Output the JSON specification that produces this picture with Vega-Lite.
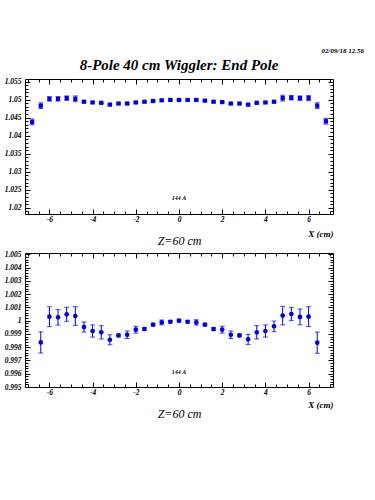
{
  "$schema": "https://vega.github.io/schema/vega-lite/v6.json",
  "background": "white",
  "padding": {"left": 3, "top": 47, "right": 5, "bottom": 5},
  "title": {"text": "02/09/18  12.56", "anchor": "end", "font": "Liberation Serif", "fontSize": 7, "fontStyle": "italic", "fontWeight": "bold", "color": "black", "offset": 3, "dx": 30},
  "config": {
    "view": {"stroke": "black", "strokeWidth": 1},
    "axis": {"grid": false, "domain": false, "tickColor": "black", "labelColor": "black", "labelFont": "Liberation Serif", "labelFontStyle": "italic", "labelFontWeight": "bold", "labelFontSize": 7.5, "titleColor": "black", "titleFont": "Liberation Serif", "titleFontStyle": "italic", "titleFontWeight": "normal"}
  },
  "datasets": {
    "top": [
      {"x": -6.8, "b": 1.0438, "lo": 1.0430, "hi": 1.0446},
      {"x": -6.4, "b": 1.0483, "lo": 1.0475, "hi": 1.0491},
      {"x": -6.0, "b": 1.0502, "lo": 1.0496, "hi": 1.0508},
      {"x": -5.6, "b": 1.0502, "lo": 1.0496, "hi": 1.0508},
      {"x": -5.2, "b": 1.0504, "lo": 1.0498, "hi": 1.0510},
      {"x": -4.8, "b": 1.0502, "lo": 1.0494, "hi": 1.0510},
      {"x": -4.4, "b": 1.0494, "lo": 1.0492, "hi": 1.0496},
      {"x": -4.0, "b": 1.0492, "lo": 1.0490, "hi": 1.0494},
      {"x": -3.6, "b": 1.0491, "lo": 1.0489, "hi": 1.0493},
      {"x": -3.2, "b": 1.0486, "lo": 1.0484, "hi": 1.0488},
      {"x": -2.8, "b": 1.0489, "lo": 1.0487, "hi": 1.0491},
      {"x": -2.4, "b": 1.0489, "lo": 1.0487, "hi": 1.0491},
      {"x": -2.0, "b": 1.0492, "lo": 1.0490, "hi": 1.0494},
      {"x": -1.6, "b": 1.0494, "lo": 1.0492, "hi": 1.0496},
      {"x": -1.2, "b": 1.0496, "lo": 1.0494, "hi": 1.0498},
      {"x": -0.8, "b": 1.0498, "lo": 1.0496, "hi": 1.0500},
      {"x": -0.4, "b": 1.0499, "lo": 1.0497, "hi": 1.0501},
      {"x": 0.0, "b": 1.0499, "lo": 1.0497, "hi": 1.0501},
      {"x": 0.4, "b": 1.0499, "lo": 1.0497, "hi": 1.0501},
      {"x": 0.8, "b": 1.0499, "lo": 1.0497, "hi": 1.0501},
      {"x": 1.2, "b": 1.0497, "lo": 1.0495, "hi": 1.0499},
      {"x": 1.6, "b": 1.0494, "lo": 1.0492, "hi": 1.0496},
      {"x": 2.0, "b": 1.0493, "lo": 1.0491, "hi": 1.0495},
      {"x": 2.4, "b": 1.0489, "lo": 1.0487, "hi": 1.0491},
      {"x": 2.8, "b": 1.0489, "lo": 1.0487, "hi": 1.0491},
      {"x": 3.2, "b": 1.0486, "lo": 1.0484, "hi": 1.0488},
      {"x": 3.6, "b": 1.0491, "lo": 1.0489, "hi": 1.0493},
      {"x": 4.0, "b": 1.0492, "lo": 1.0490, "hi": 1.0494},
      {"x": 4.4, "b": 1.0494, "lo": 1.0492, "hi": 1.0496},
      {"x": 4.8, "b": 1.0504, "lo": 1.0496, "hi": 1.0512},
      {"x": 5.2, "b": 1.0505, "lo": 1.0499, "hi": 1.0511},
      {"x": 5.6, "b": 1.0504, "lo": 1.0498, "hi": 1.0510},
      {"x": 6.0, "b": 1.0504, "lo": 1.0497, "hi": 1.0511},
      {"x": 6.4, "b": 1.0483, "lo": 1.0475, "hi": 1.0491},
      {"x": 6.8, "b": 1.0440, "lo": 1.0432, "hi": 1.0448}
    ],
    "bottom": [
      {"x": -6.4, "b": 0.99836, "lo": 0.99756, "hi": 0.99916},
      {"x": -6.0, "b": 1.00030, "lo": 0.99955, "hi": 1.00105},
      {"x": -5.6, "b": 1.00025, "lo": 0.99967, "hi": 1.00083},
      {"x": -5.2, "b": 1.00048, "lo": 0.99995, "hi": 1.00101},
      {"x": -4.8, "b": 1.00035, "lo": 0.99965, "hi": 1.00105},
      {"x": -4.4, "b": 0.99952, "lo": 0.99914, "hi": 0.99990},
      {"x": -4.0, "b": 0.99922, "lo": 0.99876, "hi": 0.99968},
      {"x": -3.6, "b": 0.99912, "lo": 0.99862, "hi": 0.99962},
      {"x": -3.2, "b": 0.99856, "lo": 0.99818, "hi": 0.99894},
      {"x": -2.8, "b": 0.99889, "lo": 0.99879, "hi": 0.99899},
      {"x": -2.4, "b": 0.99894, "lo": 0.99866, "hi": 0.99922},
      {"x": -2.0, "b": 0.99932, "lo": 0.99906, "hi": 0.99958},
      {"x": -1.6, "b": 0.99937, "lo": 0.99925, "hi": 0.99949},
      {"x": -1.2, "b": 0.99970, "lo": 0.99960, "hi": 0.99980},
      {"x": -0.8, "b": 0.99987, "lo": 0.99969, "hi": 1.00005},
      {"x": -0.4, "b": 0.99992, "lo": 0.99982, "hi": 1.00002},
      {"x": 0.0, "b": 1.00000, "lo": 0.99990, "hi": 1.00010},
      {"x": 0.4, "b": 0.99992, "lo": 0.99982, "hi": 1.00002},
      {"x": 0.8, "b": 0.99987, "lo": 0.99967, "hi": 1.00007},
      {"x": 1.2, "b": 0.99970, "lo": 0.99960, "hi": 0.99980},
      {"x": 1.6, "b": 0.99937, "lo": 0.99925, "hi": 0.99949},
      {"x": 2.0, "b": 0.99932, "lo": 0.99906, "hi": 0.99958},
      {"x": 2.4, "b": 0.99894, "lo": 0.99866, "hi": 0.99922},
      {"x": 2.8, "b": 0.99889, "lo": 0.99879, "hi": 0.99899},
      {"x": 3.2, "b": 0.99859, "lo": 0.99821, "hi": 0.99897},
      {"x": 3.6, "b": 0.99912, "lo": 0.99862, "hi": 0.99962},
      {"x": 4.0, "b": 0.99922, "lo": 0.99876, "hi": 0.99968},
      {"x": 4.4, "b": 0.99957, "lo": 0.99917, "hi": 0.99997},
      {"x": 4.8, "b": 1.00038, "lo": 0.99968, "hi": 1.00108},
      {"x": 5.2, "b": 1.00050, "lo": 1.00000, "hi": 1.00100},
      {"x": 5.6, "b": 1.00028, "lo": 0.99968, "hi": 1.00088},
      {"x": 6.0, "b": 1.00030, "lo": 0.99955, "hi": 1.00105},
      {"x": 6.4, "b": 0.99834, "lo": 0.99754, "hi": 0.99914}
    ],
    "label": [{"x": 0, "yt": 1.0227, "yb": 0.99615, "t": "144 A"}]
  },
  "spacing": 2,
  "vconcat": [
    {
      "width": 308, "height": 135,
      "title": {"text": "8-Pole 40 cm Wiggler: End Pole", "font": "Liberation Serif", "fontSize": 15, "fontStyle": "italic", "fontWeight": "bold", "color": "black", "anchor": "middle", "offset": 5},
      "resolve": {"axis": {"x": "independent", "y": "independent"}},
      "layer": [
        {
          "data": {"name": "top"},
          "mark": {"type": "rule", "color": "#0000dd", "strokeWidth": 1},
          "encoding": {
            "x": {"field": "x", "type": "quantitative", "scale": {"domain": [-7.13, 7.13], "nice": false, "zero": false},
                  "axis": {"orient": "bottom", "values": [-6, -4, -2, 0, 2, 4, 6], "tickSize": -5, "labelPadding": 6, "labelExpr": "toString(datum.value)", "title": "Z=60 cm", "titleFontSize": 12, "titlePadding": 13}},
            "y": {"field": "lo", "type": "quantitative", "scale": {"domain": [1.0183, 1.0557], "nice": false, "zero": false},
                  "axis": {"orient": "left", "values": [1.02, 1.025, 1.03, 1.035, 1.04, 1.045, 1.05, 1.055], "tickSize": -5, "labelPadding": 9, "labelExpr": "toString(datum.value)", "title": null}},
            "y2": {"field": "hi"}
          }
        },
        {
          "data": {"name": "top"},
          "mark": {"type": "tick", "color": "#0000dd", "size": 5, "thickness": 1, "orient": "horizontal"},
          "encoding": {
            "x": {"field": "x", "type": "quantitative",
                  "axis": {"orient": "bottom", "values": [-7, -6.5, -5.5, -5, -4.5, -3.5, -3, -2.5, -1.5, -1, -0.5, 0.5, 1, 1.5, 2.5, 3, 3.5, 4.5, 5, 5.5, 6.5, 7], "tickSize": -3, "labels": false, "title": "X (cm)", "titleFontSize": 9, "titleFontWeight": "bold", "titleAnchor": "end", "titleAlign": "right", "titlePadding": 15}},
            "y": {"field": "lo", "type": "quantitative",
                  "axis": {"orient": "left", "values": [1.019, 1.021, 1.022, 1.023, 1.024, 1.026, 1.027, 1.028, 1.029, 1.031, 1.032, 1.033, 1.034, 1.036, 1.037, 1.038, 1.039, 1.041, 1.042, 1.043, 1.044, 1.046, 1.047, 1.048, 1.049, 1.051, 1.052, 1.053, 1.054], "tickSize": -3, "labels": false, "title": null}}
          }
        },
        {
          "data": {"name": "top"},
          "mark": {"type": "tick", "color": "#0000dd", "size": 5, "thickness": 1, "orient": "horizontal"},
          "encoding": {
            "x": {"field": "x", "type": "quantitative",
                  "axis": {"orient": "top", "values": [-6, -4, -2, 0, 2, 4, 6], "tickSize": -5, "labels": false, "title": null}},
            "y": {"field": "hi", "type": "quantitative",
                  "axis": {"orient": "right", "values": [1.02, 1.025, 1.03, 1.035, 1.04, 1.045, 1.05, 1.055], "tickSize": -5, "labels": false, "title": null}}
          }
        },
        {
          "data": {"name": "top"},
          "mark": {"type": "point", "shape": "square", "filled": true, "color": "#0000dd", "size": 18, "opacity": 1},
          "encoding": {
            "x": {"field": "x", "type": "quantitative",
                  "axis": {"orient": "top", "values": [-7, -6.5, -5.5, -5, -4.5, -3.5, -3, -2.5, -1.5, -1, -0.5, 0.5, 1, 1.5, 2.5, 3, 3.5, 4.5, 5, 5.5, 6.5, 7], "tickSize": -3, "labels": false, "title": null}},
            "y": {"field": "b", "type": "quantitative",
                  "axis": {"orient": "right", "values": [1.019, 1.021, 1.022, 1.023, 1.024, 1.026, 1.027, 1.028, 1.029, 1.031, 1.032, 1.033, 1.034, 1.036, 1.037, 1.038, 1.039, 1.041, 1.042, 1.043, 1.044, 1.046, 1.047, 1.048, 1.049, 1.051, 1.052, 1.053, 1.054], "tickSize": -3, "labels": false, "title": null}}
          }
        },
        {
          "data": {"name": "label"},
          "mark": {"type": "text", "font": "Liberation Serif", "fontStyle": "italic", "fontWeight": "bold", "fontSize": 6, "color": "black"},
          "encoding": {
            "x": {"field": "x", "type": "quantitative", "axis": null},
            "y": {"field": "yt", "type": "quantitative", "axis": null},
            "text": {"field": "t"}
          }
        }
      ]
    },
    {
      "width": 308, "height": 134,
      "resolve": {"axis": {"x": "independent", "y": "independent"}},
      "layer": [
        {
          "data": {"name": "bottom"},
          "mark": {"type": "rule", "color": "#0000dd", "strokeWidth": 1},
          "encoding": {
            "x": {"field": "x", "type": "quantitative", "scale": {"domain": [-7.13, 7.13], "nice": false, "zero": false},
                  "axis": {"orient": "bottom", "values": [-6, -4, -2, 0, 2, 4, 6], "tickSize": -5, "labelPadding": 6, "labelExpr": "toString(datum.value)", "title": "Z=60 cm", "titleFontSize": 12, "titlePadding": 13}},
            "y": {"field": "lo", "type": "quantitative", "scale": {"domain": [0.995, 1.0051], "nice": false, "zero": false},
                  "axis": {"orient": "left", "values": [0.995, 0.996, 0.997, 0.998, 0.999, 1, 1.001, 1.002, 1.003, 1.004, 1.005], "tickSize": -5, "labelPadding": 9, "labelExpr": "toString(datum.value)", "title": null}},
            "y2": {"field": "hi"}
          }
        },
        {
          "data": {"name": "bottom"},
          "mark": {"type": "tick", "color": "#0000dd", "size": 5, "thickness": 1, "orient": "horizontal"},
          "encoding": {
            "x": {"field": "x", "type": "quantitative",
                  "axis": {"orient": "bottom", "values": [-7, -6.5, -5.5, -5, -4.5, -3.5, -3, -2.5, -1.5, -1, -0.5, 0.5, 1, 1.5, 2.5, 3, 3.5, 4.5, 5, 5.5, 6.5, 7], "tickSize": -3, "labels": false, "title": "X (cm)", "titleFontSize": 9, "titleFontWeight": "bold", "titleAnchor": "end", "titleAlign": "right", "titlePadding": 13}},
            "y": {"field": "lo", "type": "quantitative",
                  "axis": {"orient": "left", "values": [0.9952, 0.9954, 0.9956, 0.9958, 0.9962, 0.9964, 0.9966, 0.9968, 0.9972, 0.9974, 0.9976, 0.9978, 0.9982, 0.9984, 0.9986, 0.9988, 0.9992, 0.9994, 0.9996, 0.9998, 1.0002, 1.0004, 1.0006, 1.0008, 1.0012, 1.0014, 1.0016, 1.0018, 1.0022, 1.0024, 1.0026, 1.0028, 1.0032, 1.0034, 1.0036, 1.0038, 1.0042, 1.0044, 1.0046, 1.0048], "tickSize": -3, "labels": false, "title": null}}
          }
        },
        {
          "data": {"name": "bottom"},
          "mark": {"type": "tick", "color": "#0000dd", "size": 5, "thickness": 1, "orient": "horizontal"},
          "encoding": {
            "x": {"field": "x", "type": "quantitative",
                  "axis": {"orient": "top", "values": [-6, -4, -2, 0, 2, 4, 6], "tickSize": -5, "labels": false, "title": null}},
            "y": {"field": "hi", "type": "quantitative",
                  "axis": {"orient": "right", "values": [0.995, 0.996, 0.997, 0.998, 0.999, 1, 1.001, 1.002, 1.003, 1.004, 1.005], "tickSize": -5, "labels": false, "title": null}}
          }
        },
        {
          "data": {"name": "bottom"},
          "mark": {"type": "point", "shape": "circle", "filled": true, "color": "#0000dd", "size": 22, "opacity": 1},
          "encoding": {
            "x": {"field": "x", "type": "quantitative",
                  "axis": {"orient": "top", "values": [-7, -6.5, -5.5, -5, -4.5, -3.5, -3, -2.5, -1.5, -1, -0.5, 0.5, 1, 1.5, 2.5, 3, 3.5, 4.5, 5, 5.5, 6.5, 7], "tickSize": -3, "labels": false, "title": null}},
            "y": {"field": "b", "type": "quantitative",
                  "axis": {"orient": "right", "values": [0.9952, 0.9954, 0.9956, 0.9958, 0.9962, 0.9964, 0.9966, 0.9968, 0.9972, 0.9974, 0.9976, 0.9978, 0.9982, 0.9984, 0.9986, 0.9988, 0.9992, 0.9994, 0.9996, 0.9998, 1.0002, 1.0004, 1.0006, 1.0008, 1.0012, 1.0014, 1.0016, 1.0018, 1.0022, 1.0024, 1.0026, 1.0028, 1.0032, 1.0034, 1.0036, 1.0038, 1.0042, 1.0044, 1.0046, 1.0048], "tickSize": -3, "labels": false, "title": null}}
          }
        },
        {
          "data": {"name": "label"},
          "mark": {"type": "text", "font": "Liberation Serif", "fontStyle": "italic", "fontWeight": "bold", "fontSize": 6, "color": "black"},
          "encoding": {
            "x": {"field": "x", "type": "quantitative", "axis": null},
            "y": {"field": "yb", "type": "quantitative", "axis": null},
            "text": {"field": "t"}
          }
        }
      ]
    }
  ]
}
